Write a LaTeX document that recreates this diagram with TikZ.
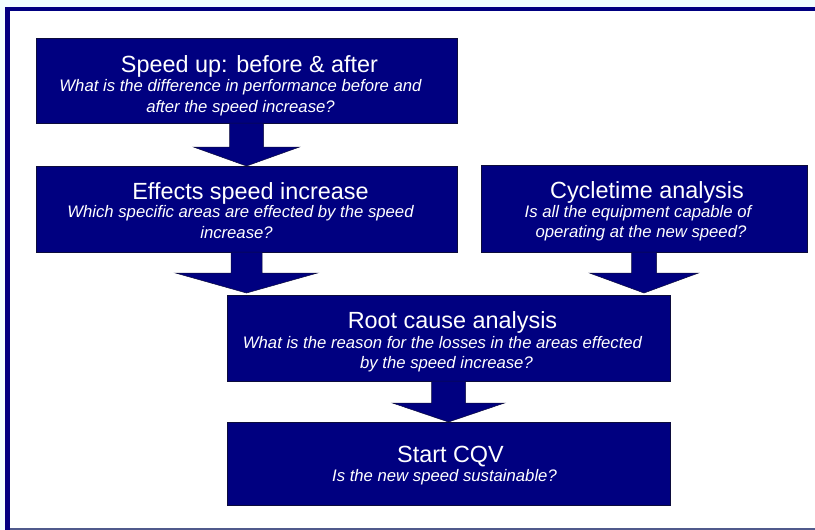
\documentclass[tikz,border=0pt]{standalone}
\usepackage{fontspec}
\setmainfont{Liberation Sans}
\usetikzlibrary{calc}
\definecolor{navyb}{RGB}{0,0,128}
\definecolor{edgeb}{RGB}{12,12,60}
\definecolor{azureb}{RGB}{240,255,255}
\definecolor{lineb}{RGB}{80,90,140}
\newcommand\blkarrow[5]{%
  \filldraw[blockarrow] ($(#1)+(-#3,0)$) -- ($(#2)+(-#3,-#5)$) -- ($(#2)+(-#4,-#5)$) -- (#2)
    -- ($(#2)+(#4,-#5)$) -- ($(#2)+(#3,-#5)$) -- ($(#1)+(#3,0)$) -- cycle;}
\begin{document}
\begin{tikzpicture}[x=1pt,y=-1pt,
  flowbox/.style={fill=navyb, draw=edgeb, line width=0.7pt, inner sep=0pt, outer sep=0pt, anchor=north west},
  ttl/.style={text=white, font=\fontsize{23.4}{28}\selectfont, inner sep=0pt, anchor=base},
  sub/.style={text=white, font=\fontsize{16.7}{20}\selectfont\itshape, inner sep=0pt, anchor=base},
  blockarrow/.style={fill=navyb, draw=edgeb, line width=0.5pt, line join=miter}]
\useasboundingbox (0,0) rectangle (815,530);
% frame
\fill[azureb] (0,0) rectangle (815,530);
\fill[white] (10,11) rectangle (815,528);
\fill[navyb] (5,7) rectangle (815,11);
\fill[navyb] (5,7) rectangle (10,530);
\fill[lineb] (10,528) rectangle (815,530);
% boxes
\node[flowbox, minimum width=421, minimum height=85] (b1) at (36,38) {};
\node[flowbox, minimum width=421, minimum height=86] (b2) at (36,166) {};
\node[flowbox, minimum width=326, minimum height=87] (b3) at (481,165) {};
\node[flowbox, minimum width=443, minimum height=86] (b4) at (227,295) {};
\node[flowbox, minimum width=443, minimum height=83] (b5) at (227,422) {};
% arrows
\coordinate (a1e) at (b1.south |- b2.north);
\coordinate (a2e) at ($(b2.south |- b4.north)+(0,-2)$);
\coordinate (a3e) at ($(b3.south |- b4.north)+(0,-2)$);
\coordinate (a4e) at (b4.south |- b5.north);
\blkarrow{b1.south}{a1e}{17}{53}{19}
\blkarrow{b2.south}{a2e}{15.5}{71}{20}
\blkarrow{b3.south}{a3e}{12.5}{54.5}{20}
\blkarrow{b4.south}{a4e}{17}{56}{19}
% texts
\node[ttl] (t1) at ($(b1.north)+(3,34)$) {Speed up: before \& after};
\node[sub] (s1a) at ($(b1.north)+(-6,53)$) {What is the difference in performance before and};
\node[sub] (s1b) at ($(b1.north)+(-6,74)$) {after the speed increase?};
\node[ttl] (t2) at ($(b2.north)+(4,33)$) {Effects speed increase};
\node[sub] (s2a) at ($(b2.north)+(-6,51.5)$) {Which specific areas are effected by the speed};
\node[sub] (s2b) at ($(b2.north)+(-10,72)$) {increase?};
\node[ttl] (t3) at ($(b3.north)+(3,33)$) {Cycletime analysis};
\node[sub] (s3a) at ($(b3.north)+(-6,52)$) {Is all the equipment capable of};
\node[sub] (s3b) at ($(b3.north)+(-3,72)$) {operating at the new speed?};
\node[ttl] (t4) at ($(b4.north)+(4,33)$) {Root cause analysis};
\node[sub] (s4a) at ($(b4.north)+(-6,53)$) {What is the reason for the losses in the areas effected};
\node[sub] (s4b) at ($(b4.north)+(-2,73)$) {by the speed increase?};
\node[ttl] (t5) at ($(b5.north)+(2,40)$) {Start CQV};
\node[sub] (s5a) at ($(b5.north)+(-4,59)$) {Is the new speed sustainable?};
\end{tikzpicture}
\end{document}
